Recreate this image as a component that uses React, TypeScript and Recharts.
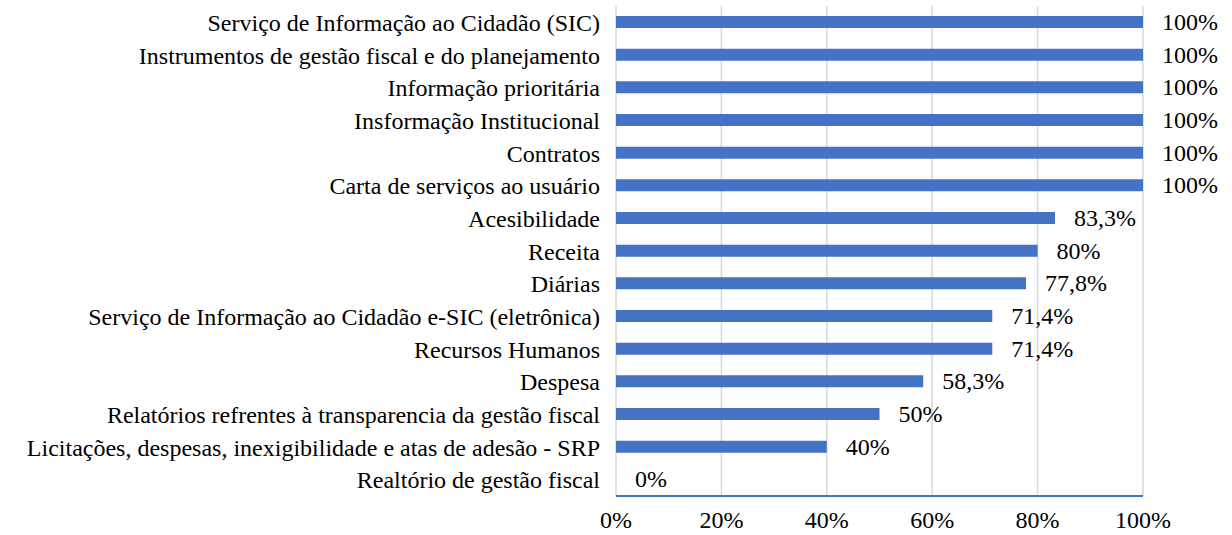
import { BarChart, Bar, XAxis, YAxis, CartesianGrid, LabelList } from 'recharts';

const categories = [
  'Serviço de Informação ao Cidadão (SIC)',
  'Instrumentos de gestão fiscal e do planejamento',
  'Informação prioritária',
  'Insformação Institucional',
  'Contratos',
  'Carta de serviços ao usuário',
  'Acesibilidade',
  'Receita',
  'Diárias',
  'Serviço de Informação ao Cidadão e-SIC (eletrônica)',
  'Recursos Humanos',
  'Despesa',
  'Relatórios refrentes à transparencia da gestão fiscal',
  'Licitações, despesas, inexigibilidade e atas de adesão - SRP',
  'Realtório de gestão fiscal',
];

const values = [100, 100, 100, 100, 100, 100, 83.3, 80, 77.8, 71.4, 71.4, 58.3, 50, 40, 0];

const xTicks = [0, 20, 40, 60, 80, 100];

const data = categories.map((name, i) => ({ name, value: values[i] }));

const FONT = '"Liberation Serif", "Times New Roman", serif';
const BLUE = '#4472C4';
const textStyle = { fill: '#000', fontSize: 24, fontFamily: FONT };

const fmt = (v: number) => `${String(v).replace('.', ',')}%`;

// rótulo de valor desenhado à mão para que o 0% também apareça
const ValueLabel = (props: any) => {
  const { x, y, width, height, value } = props;
  return (
    <text
      x={Number(x) + Number(width) + 19}
      y={Number(y) + Number(height) / 2}
      dominantBaseline="central"
      style={textStyle}
    >
      {fmt(value)}
    </text>
  );
};

export default function App() {
  return (
    <div style={{ position: 'absolute', left: 0, top: 0, background: '#fff' }}>
      <BarChart
        width={1232}
        height={535}
        data={data}
        layout="vertical"
        margin={{ top: 6, right: 89, bottom: 0, left: 0 }}
        barCategoryGap={0}
      >
        <CartesianGrid horizontal={false} stroke="#D9D9D9" strokeWidth={1.5} />
        <XAxis
          type="number"
          domain={[0, 100]}
          ticks={xTicks}
          tickFormatter={(v: number) => `${v}%`}
          axisLine={{ stroke: BLUE, strokeWidth: 2 }}
          tickLine={false}
          tick={textStyle}
          tickMargin={9}
          height={39}
          interval={0}
        />
        <YAxis
          type="category"
          dataKey="name"
          width={616}
          axisLine={false}
          tickLine={false}
          tick={textStyle}
          tickMargin={10}
          interval={0}
        />
        <Bar
          dataKey="value"
          fill={BLUE}
          barSize={12}
          minPointSize={(v: number) => (v === 0 ? 0.01 : 0)}
          isAnimationActive={false}
        >
          <LabelList dataKey="value" content={ValueLabel} />
        </Bar>
      </BarChart>
    </div>
  );
}
